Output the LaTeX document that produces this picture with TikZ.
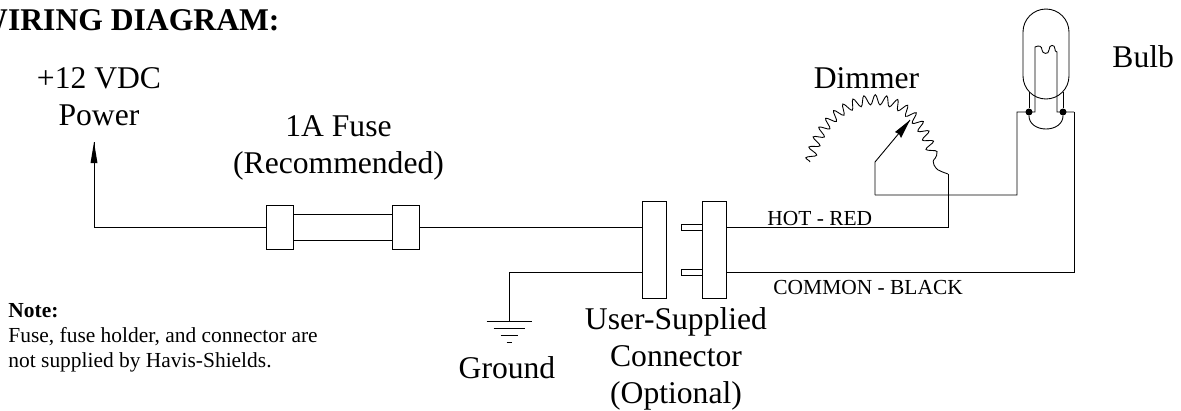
\documentclass[tikz,border=0pt]{standalone}
\usepackage{fontspec}
\setmainfont{Liberation Serif}
\usetikzlibrary{decorations.pathmorphing}

\tikzset{
  biglabel/.style={font=\fontsize{18}{21.6}\selectfont, align=center, inner sep=0pt},
  smalllabel/.style={font=\fontsize{12.2}{14.6}\selectfont, inner sep=0pt},
  fusecap/.style={draw, inner sep=0pt, minimum width=0.54cm, minimum height=0.88cm},
  plugbody/.style={draw, inner sep=0pt, minimum width=0.48cm, minimum height=1.94cm},
  plugpin/.style={draw, inner sep=0pt, minimum width=0.42cm, minimum height=0.12cm},
  joint/.style={circle, fill=black, inner sep=0pt, minimum size=0.14cm}
}

\begin{document}
\begin{tikzpicture}[x=0.02cm, y=-0.02cm, line width=0.5pt]
\useasboundingbox (0,0) rectangle (1181,410);

% labels
\node [biglabel, anchor=base west] (title) at (-24,30) {\textbf{WIRING DIAGRAM:}};
\node [biglabel] (powerlabel) at (99,97) {+12 VDC\\[-0.5pt]Power};
\node [biglabel] (fuselabel) at (338.5,148) {1A Fuse\\[-0.5pt](Recommended)};
\node [biglabel, anchor=base] (dimmerlabel) at (866.5,88) {Dimmer};
\node [biglabel, anchor=base west] (bulblabel) at (1112,67) {Bulb};
\node [biglabel, anchor=base] (groundlabel) at (507,378) {Ground};
\node [biglabel] (pluglabel) at (676,358.5) {User-Supplied\\[-0.5pt]Connector\\[-0.5pt](Optional)};
\node [smalllabel, anchor=base west] (hotlabel) at (767,225) {HOT - RED};
\node [smalllabel, anchor=base west] (commonlabel) at (773,294) {COMMON - BLACK};
\node [smalllabel, anchor=base west] (notelabel) at (8,317) {\textbf{Note:}};
\node [smalllabel, anchor=base west] (notetext) at (8,342) {Fuse, fuse holder, and connector are};
\node [smalllabel, anchor=base west] (notetextb) at (8,367) {not supplied by Havis-Shields.};

% fuse
\node [fusecap] (fuseL) at (280,227) {};
\node [fusecap] (fuseR) at (405.5,227) {};
\draw ([yshift=0.26cm]fuseL.east) -- ([yshift=0.26cm]fuseR.west);
\draw ([yshift=-0.26cm]fuseL.east) -- ([yshift=-0.26cm]fuseR.west);

% connector
\node [plugbody] (plugL) at (654,249.5) {};
\node [plugbody] (plugR) at (714,249.5) {};
\node [plugpin] (pinA) at (691.5,227) {};
\node [plugpin] (pinB) at (691.5,272) {};

% power wire
\coordinate (powertip) at (94,142);
\draw (powertip) |- (fuseL.west);
\fill [black] (powertip) -- ++(-3.5,21) -- ++(7,0) -- cycle;
\draw (fuseR.east) -- (plugL.west |- fuseR.east);

% ground
\coordinate (earth) at (509,321);
\draw (plugL.west |- pinB) -| (earth);
\foreach \dy/\hw in {0/22.5,7/15.5,14/8.5,21/2.5}
  \draw ([shift={(-\hw,\dy)}]earth) -- ([shift={(\hw,\dy)}]earth);

% dimmer
\coordinate (coilA) at (810,162);
\coordinate (coilB) at (934,165);
\coordinate (hotbend) at (948,174);
\coordinate (wipertip) at (910,120);
\coordinate (wiperfoot) at (875,162);
\coordinate (wipercorner) at (875,195);
\draw [decorate, decoration={snake, segment length=0.21cm, amplitude=0.1cm}]
  (coilA) .. controls (825,92) and (915,72) .. (coilB);
\draw (coilB) .. controls (937,170) .. (hotbend);
\draw (plugR.east |- pinA) -| (hotbend);
\draw (wipertip) -- (wiperfoot) -- (wipercorner);
\fill [black] (wipertip) -- (895,132) -- (899,134) -- (901,138) -- cycle;

% bulb
\node [draw, inner sep=0pt, minimum width=0.92cm, minimum height=1.8cm, rounded corners=0.46cm] (bulb) at (1046,54) {};
\node [joint] (dotL) at (1029,112) {};
\node [joint] (dotR) at (1063,112) {};
\coordinate (lampL) at (1017,112);
\coordinate (lampR) at (1074,112);
\coordinate (legL) at (1035,112);
\coordinate (legR) at (1057,112);
\draw (wipercorner) -| (lampL) -- (legL) -- (1035,47)
  .. controls (1039,45) and (1042,46) .. (1042,50)
  .. controls (1042,54) and (1049,55) .. (1049,50)
  .. controls (1049,44) and (1055,44) .. (1055,49)
  .. controls (1055,51) .. (1057,52) -- (legR) -- (lampR);
\draw (plugR.east |- pinB) -| (lampR);
\draw (dotL) -- ++(0,-20.5);
\draw (dotR) -- ++(0,-20.5);
\draw (dotL) .. controls (1029,124) and (1037,129) .. (1046,129)
  .. controls (1055,129) and (1063,124) .. (dotR);
\end{tikzpicture}
\end{document}
